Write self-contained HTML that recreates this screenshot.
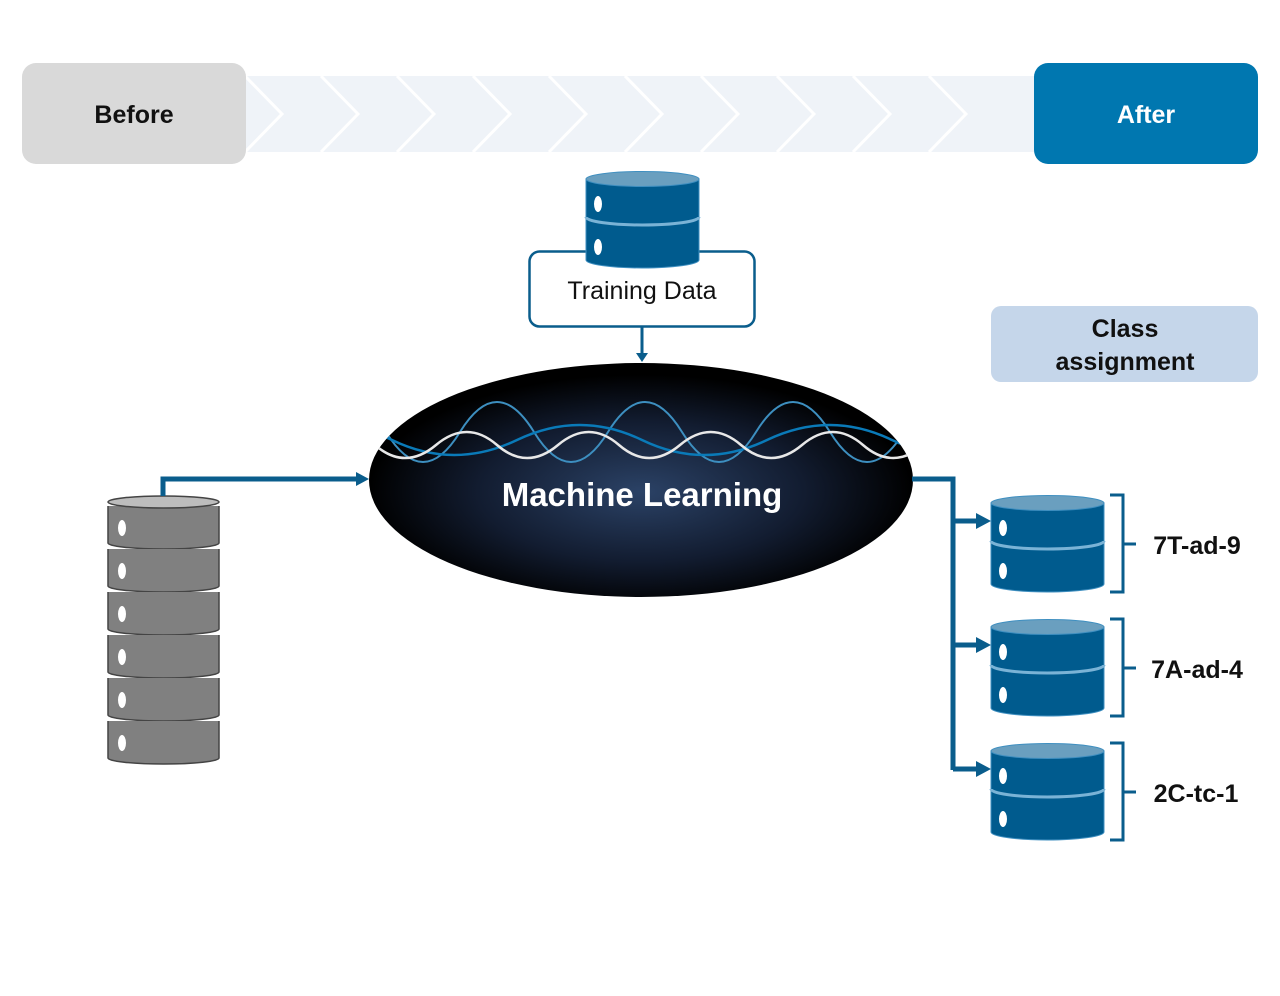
<!DOCTYPE html>
<html><head><meta charset="utf-8"><style>
html,body{margin:0;padding:0;background:#fff;}
svg{display:block;}
text{font-family:"Liberation Sans",Arial,sans-serif;}
</style></head><body>
<svg width="1280" height="996" viewBox="0 0 1280 996" xmlns="http://www.w3.org/2000/svg">
<defs>
  <radialGradient id="eg" cx="50%" cy="55%" r="50%">
    <stop offset="0" stop-color="#2b4266"/>
    <stop offset="0.6" stop-color="#121c30"/>
    <stop offset="1" stop-color="#000"/>
  </radialGradient>
  <clipPath id="ec"><ellipse cx="641" cy="480" rx="272" ry="117"/></clipPath>
  <g id="bcyl">
    <path d="M0,8 V89 A56.5,8 0 0 0 113,89 V8 Z" fill="#005b8e" stroke="#3f8fc0" stroke-width="1"/>
    <path d="M0,46 A56.5,8 0 0 0 113,46" fill="none" stroke="#7ab3d6" stroke-width="3"/>
    <ellipse cx="56.5" cy="8" rx="56.5" ry="7.5" fill="#6a9fbf" stroke="#3f8fc0" stroke-width="1"/>
    <ellipse cx="12" cy="33" rx="4" ry="8" fill="#fff"/>
    <ellipse cx="12" cy="76" rx="4" ry="8" fill="#fff"/>
  </g>
  <g id="gseg">
    <path d="M0,0 V37 A55.5,6 0 0 0 111,37 V0" fill="#808080" stroke="#444" stroke-width="1.5"/>
    <ellipse cx="14" cy="22" rx="4" ry="8" fill="#fff"/>
  </g>
</defs>

<rect x="240" y="76" width="800" height="76" fill="#eff3f8"/>
<g fill="none" stroke="#fff" stroke-width="3">
  <path d="M245,76 L282,114 L245,152"/>
  <path d="M321,76 L358,114 L321,152"/>
  <path d="M397,76 L434,114 L397,152"/>
  <path d="M473,76 L510,114 L473,152"/>
  <path d="M549,76 L586,114 L549,152"/>
  <path d="M625,76 L662,114 L625,152"/>
  <path d="M701,76 L738,114 L701,152"/>
  <path d="M777,76 L814,114 L777,152"/>
  <path d="M853,76 L890,114 L853,152"/>
  <path d="M929,76 L966,114 L929,152"/>
</g>
<rect x="22" y="63" width="224" height="101" rx="14" fill="#d9d9d9"/>
<text x="134" y="123" font-size="25" font-weight="bold" text-anchor="middle" fill="#111">Before</text>
<rect x="1034" y="63" width="224" height="101" rx="14" fill="#0077b0"/>
<text x="1146" y="123" font-size="25" font-weight="bold" text-anchor="middle" fill="#fff">After</text>

<rect x="529.5" y="251.5" width="225" height="75" rx="10" fill="#fff" stroke="#0a5d8c" stroke-width="2.5"/>
<use href="#bcyl" x="586" y="171"/>
<text x="642" y="299" font-size="25" text-anchor="middle" fill="#111">Training Data</text>
<line x1="642" y1="327" x2="642" y2="355" stroke="#0a5d8c" stroke-width="3"/>
<path d="M636,353 L648,353 L642,362 Z" fill="#0a5d8c"/>

<rect x="991" y="306" width="267" height="76" rx="10" fill="#c5d6ea"/>
<text x="1125" y="337" font-size="25" font-weight="bold" text-anchor="middle" fill="#111">Class</text>
<text x="1125" y="370" font-size="25" font-weight="bold" text-anchor="middle" fill="#111">assignment</text>

<ellipse cx="641" cy="480" rx="272" ry="117" fill="url(#eg)"/>
<g clip-path="url(#ec)" fill="none" stroke-width="2">
  <path d="M312,432 Q349,372 386,432 T460,432 T534,432 T608,432 T682,432 T756,432 T830,432 T904,432 T978,432" stroke="#3d8fc0"/>
  <path d="M267,440 Q330,410 392,440 T517,440 T642,440 T767,440 T892,440 T1017,440" stroke="#0a7ab8" stroke-width="2.5"/>
  <path d="M314,445 Q345,419 375,445 T436,445 T497,445 T558,445 T619,445 T680,445 T741,445 T802,445 T863,445 T924,445" stroke="#e8e8e8" stroke-width="2.5"/>
</g>
<text x="642" y="506" font-size="33" font-weight="bold" text-anchor="middle" fill="#fff">Machine Learning</text>

<g>
  <use href="#gseg" x="108" y="506"/>
  <use href="#gseg" x="108" y="549"/>
  <use href="#gseg" x="108" y="592"/>
  <use href="#gseg" x="108" y="635"/>
  <use href="#gseg" x="108" y="678"/>
  <use href="#gseg" x="108" y="721"/>
  <ellipse cx="163.5" cy="502" rx="55.5" ry="6" fill="#bdbdbd" stroke="#444" stroke-width="1.5"/>
</g>
<path d="M163,496 V479 H360" fill="none" stroke="#0a5d8c" stroke-width="5"/>
<path d="M356,472 L369,479 L356,486 Z" fill="#0a5d8c"/>

<path d="M912,479 H953 V770" fill="none" stroke="#0a5d8c" stroke-width="5"/>
<g stroke="#0a5d8c" stroke-width="5">
  <line x1="953" y1="521" x2="980" y2="521"/>
  <line x1="953" y1="645" x2="980" y2="645"/>
  <line x1="953" y1="769" x2="980" y2="769"/>
</g>
<g fill="#0a5d8c">
  <path d="M976,513 L991,521 L976,529 Z"/>
  <path d="M976,637 L991,645 L976,653 Z"/>
  <path d="M976,761 L991,769 L976,777 Z"/>
</g>
<use href="#bcyl" x="991" y="495"/>
<use href="#bcyl" x="991" y="619"/>
<use href="#bcyl" x="991" y="743"/>

<g fill="none" stroke="#0a5d8c" stroke-width="3">
  <path d="M1110,495 H1123 V592 H1110 M1123,544 H1136"/>
  <path d="M1110,619 H1123 V716 H1110 M1123,668 H1136"/>
  <path d="M1110,743 H1123 V840 H1110 M1123,792 H1136"/>
</g>
<text x="1197" y="554" font-size="25" font-weight="bold" text-anchor="middle" fill="#111">7T-ad-9</text>
<text x="1197" y="678" font-size="25" font-weight="bold" text-anchor="middle" fill="#111">7A-ad-4</text>
<text x="1196" y="802" font-size="25" font-weight="bold" text-anchor="middle" fill="#111">2C-tc-1</text>
</svg>
</body></html>
